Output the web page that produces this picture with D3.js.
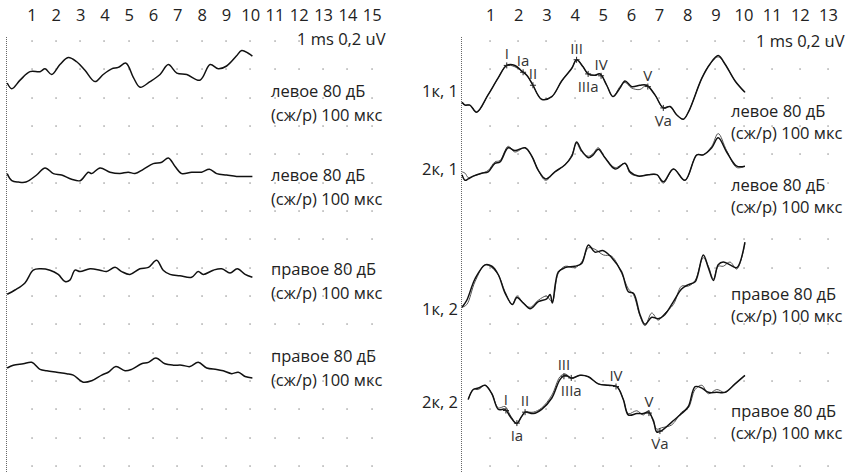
<!DOCTYPE html>
<html>
<head>
<meta charset="utf-8">
<script src="https://cdn.jsdelivr.net/npm/d3@7"></script>
<style>
body{margin:0;background:#fff;}
text{font-family:"Open Sans",sans-serif;}
</style>
</head>
<body>
<div id="chart"></div>
<script>
"use strict";

// tick labels (ms)
var leftTicks=[1,2,3,4,5,6,7,8,9,10,11,12,13,14,15];
var rightTicks=[1,2,3,4,5,6,7,8,9,10,11,12,13];

// left panel: [ms, uV]
var left1=[[0,0.00],[0.19,-0.04],[0.53,0.02],[0.94,0.08],[1.35,0.08],[1.56,0.10],[1.83,0.06],[2.17,0.13],[2.51,0.18],[2.86,0.15],[3.20,0.09],[3.61,0.01],[3.95,0.06],[4.30,0.10],[4.57,0.11],[4.89,0.14],[5.19,0.04],[5.47,-0.03],[5.88,0.01],[6.29,0.06],[6.63,0.13],[6.98,0.07],[7.39,0.06],[7.93,0.02],[8.35,0.13],[8.69,0.10],[9.03,0.12],[9.43,0.19],[9.65,0.23],[9.92,0.21],[10.09,0.19]];
var left2=[[0,0.01],[0.19,-0.04],[0.46,-0.05],[0.77,-0.05],[1.21,0.00],[1.56,0.05],[1.90,0.01],[2.24,0.00],[2.65,-0.03],[3.00,-0.04],[3.34,0.02],[3.48,0.01],[3.82,0.05],[4.23,0.02],[4.64,0.01],[4.98,0.02],[5.26,0.01],[5.60,0.04],[6.01,0.08],[6.36,0.09],[6.63,0.12],[6.91,0.06],[7.18,0.01],[7.59,0.02],[8.00,0.02],[8.32,0.04],[8.62,0.01],[9.03,0.00],[9.44,-0.01],[9.79,-0.01],[10.09,-0.01]];
var left3=[[0,-0.03],[0.32,0.00],[0.73,0.05],[1.07,0.14],[1.35,0.15],[1.76,0.14],[2.10,0.11],[2.38,0.06],[2.58,0.07],[2.79,0.14],[3.00,0.13],[3.41,0.15],[3.82,0.14],[4.09,0.13],[4.44,0.16],[4.71,0.13],[5.05,0.11],[5.46,0.15],[5.81,0.16],[6.15,0.21],[6.42,0.14],[6.70,0.11],[7.11,0.10],[7.59,0.09],[7.86,0.13],[8.07,0.11],[8.48,0.14],[8.83,0.15],[9.17,0.12],[9.47,0.15],[9.79,0.11],[10.09,0.09]];
var left4=[[0,0.00],[0.25,0.02],[0.66,0.03],[1.01,0.04],[1.35,-0.01],[1.63,-0.02],[2.04,-0.03],[2.45,-0.04],[2.72,-0.05],[3.13,-0.10],[3.48,-0.09],[3.89,-0.05],[4.16,-0.03],[4.47,0.01],[4.85,-0.02],[5.12,-0.01],[5.53,0.03],[5.81,0.04],[6.12,0.07],[6.49,0.03],[6.84,0.02],[7.18,0.02],[7.52,0.01],[7.86,0.04],[8.21,0.00],[8.62,-0.01],[8.89,-0.02],[9.24,-0.04],[9.51,-0.03],[9.79,-0.06],[10.09,-0.07]];

// right panel: two replicates each
var right1a=[[0,-0.03],[0.11,-0.05],[0.28,-0.05],[0.52,-0.10],[0.92,0.02],[1.28,0.14],[1.59,0.23],[1.88,0.23],[2.12,0.19],[2.30,0.16],[2.52,0.09],[2.70,0.02],[2.84,-0.01],[3.19,0.01],[3.54,0.12],[3.90,0.21],[4.07,0.27],[4.30,0.22],[4.48,0.17],[4.72,0.16],[4.90,0.17],[5.14,0.09],[5.36,0.01],[5.61,0.07],[5.79,0.12],[6.03,0.08],[6.32,0.09],[6.56,0.09],[6.86,0.02],[7.15,-0.07],[7.39,-0.06],[7.63,-0.12],[7.86,-0.15],[8.04,-0.10],[8.52,0.14],[8.81,0.24],[9.10,0.30],[9.34,0.24],[9.70,0.12],[10.05,0.04]];
var right1b=[[0,-0.03],[0.11,-0.05],[0.28,-0.05],[0.52,-0.10],[0.92,0.02],[1.28,0.14],[1.59,0.23],[1.88,0.22],[2.12,0.19],[2.30,0.16],[2.52,0.09],[2.70,0.02],[2.84,-0.01],[3.19,0.01],[3.54,0.12],[3.90,0.21],[4.07,0.27],[4.30,0.22],[4.48,0.17],[4.72,0.16],[4.90,0.17],[5.14,0.09],[5.36,0.01],[5.61,0.08],[5.79,0.11],[6.03,0.07],[6.32,0.06],[6.56,0.09],[6.86,0.02],[7.15,-0.07],[7.39,-0.06],[7.63,-0.12],[7.86,-0.15],[8.04,-0.10],[8.52,0.14],[8.81,0.24],[9.10,0.29],[9.34,0.24],[9.70,0.12],[10.05,0.04]];
var right2a=[[0,-0.04],[0.11,-0.08],[0.22,-0.07],[0.40,-0.05],[0.70,-0.03],[0.93,-0.02],[1.17,0.04],[1.35,0.05],[1.64,0.15],[1.88,0.13],[2.24,0.15],[2.48,0.09],[2.71,-0.01],[2.97,-0.07],[3.30,-0.02],[3.66,0.03],[3.90,0.09],[4.07,0.19],[4.25,0.13],[4.49,0.08],[4.66,0.10],[4.84,0.14],[5.08,0.08],[5.44,0.00],[5.79,0.04],[5.97,-0.02],[6.26,-0.05],[6.62,-0.04],[6.92,-0.04],[7.15,-0.09],[7.51,0.00],[7.92,-0.08],[8.34,0.10],[8.57,0.10],[8.87,0.15],[9.10,0.22],[9.40,0.12],[9.76,0.02],[10.05,0.02]];
var right2b=[[0,-0.02],[0.11,-0.03],[0.22,-0.06],[0.40,-0.05],[0.70,-0.03],[0.93,-0.01],[1.17,0.05],[1.35,0.06],[1.64,0.16],[1.88,0.12],[2.24,0.15],[2.48,0.09],[2.71,-0.01],[2.97,-0.08],[3.30,-0.02],[3.66,0.03],[3.90,0.10],[4.07,0.18],[4.25,0.12],[4.49,0.09],[4.66,0.11],[4.84,0.15],[5.08,0.08],[5.44,0.01],[5.79,0.04],[5.97,-0.03],[6.26,-0.05],[6.62,-0.04],[6.92,-0.04],[7.15,-0.10],[7.51,0.00],[7.92,-0.08],[8.34,0.10],[8.57,0.10],[8.87,0.16],[9.10,0.25],[9.40,0.13],[9.76,0.01],[10.05,0.02]];
var right3a=[[0,-0.08],[0.17,-0.03],[0.46,0.12],[0.82,0.22],[1.06,0.21],[1.29,0.15],[1.53,0.02],[1.79,-0.06],[1.95,-0.01],[2.18,-0.05],[2.42,-0.09],[2.71,-0.04],[3.01,-0.02],[3.13,0.01],[3.21,-0.05],[3.42,0.17],[3.66,0.20],[4.01,0.21],[4.25,0.23],[4.49,0.36],[4.72,0.31],[5.02,0.32],[5.32,0.27],[5.67,0.17],[5.91,0.03],[6.09,0.02],[6.32,-0.13],[6.50,-0.20],[6.74,-0.15],[6.97,-0.16],[7.21,-0.13],[7.51,-0.04],[7.80,0.05],[8.04,0.08],[8.28,0.10],[8.57,0.29],[8.75,0.20],[8.93,0.11],[9.10,0.22],[9.28,0.24],[9.52,0.22],[9.76,0.20],[10.05,0.38]];
var right3b=[[0,-0.08],[0.17,-0.06],[0.46,0.10],[0.82,0.22],[1.06,0.20],[1.29,0.15],[1.53,0.03],[1.79,-0.06],[1.95,0.00],[2.18,-0.05],[2.42,-0.08],[2.71,-0.03],[3.01,0.00],[3.13,-0.03],[3.21,-0.04],[3.42,0.16],[3.66,0.21],[4.01,0.20],[4.25,0.24],[4.49,0.34],[4.72,0.33],[5.02,0.29],[5.32,0.28],[5.67,0.16],[5.91,0.05],[6.09,0.01],[6.32,-0.14],[6.50,-0.21],[6.74,-0.12],[6.97,-0.17],[7.21,-0.12],[7.51,-0.06],[7.80,0.07],[8.04,0.07],[8.28,0.11],[8.57,0.27],[8.75,0.21],[8.93,0.12],[9.10,0.21],[9.28,0.21],[9.52,0.24],[9.76,0.19],[10.05,0.37]];
var right4a=[[0.22,-0.13],[0.40,-0.06],[0.58,-0.05],[0.82,-0.03],[1.06,-0.09],[1.29,-0.20],[1.53,-0.20],[1.71,-0.25],[1.94,-0.30],[2.12,-0.25],[2.24,-0.22],[2.53,-0.23],[2.83,-0.20],[3.19,-0.12],[3.48,0.01],[3.66,0.04],[3.90,0.02],[4.19,0.04],[4.49,0.03],[4.84,-0.02],[5.20,-0.03],[5.50,-0.04],[5.73,-0.13],[5.91,-0.24],[6.21,-0.23],[6.44,-0.23],[6.62,-0.22],[6.80,-0.28],[6.92,-0.36],[7.09,-0.35],[7.45,-0.29],[7.80,-0.23],[8.04,-0.18],[8.28,-0.04],[8.52,-0.05],[8.75,-0.08],[9.05,-0.08],[9.34,-0.08],[9.70,-0.02],[10.05,0.04]];
var right4b=[[0.22,-0.13],[0.40,-0.06],[0.58,-0.06],[0.82,-0.03],[1.06,-0.09],[1.29,-0.19],[1.53,-0.18],[1.71,-0.24],[1.94,-0.30],[2.12,-0.25],[2.24,-0.22],[2.53,-0.22],[2.83,-0.19],[3.19,-0.10],[3.48,0.03],[3.66,0.05],[3.90,0.02],[4.19,0.04],[4.49,0.03],[4.84,-0.02],[5.20,-0.03],[5.50,-0.04],[5.73,-0.13],[5.91,-0.23],[6.21,-0.21],[6.44,-0.24],[6.62,-0.21],[6.80,-0.29],[6.92,-0.34],[7.09,-0.33],[7.45,-0.31],[7.80,-0.22],[8.04,-0.19],[8.28,-0.06],[8.52,-0.03],[8.75,-0.09],[9.05,-0.06],[9.34,-0.08],[9.70,-0.02],[10.05,0.04]];

// peak labels
var peakNames=["I","Ia","II","III","IIIa","IV","V","Va"];
var peakLat1=[1.59,2.17,2.52,4.07,4.48,4.94,6.60,7.15];
var peakSide1=["up","up","up","up","down","up","up","down"];
var peakLat4=[1.56,1.95,2.24,3.62,3.88,5.47,6.64,7.03];
var peakSide4=["up","down","up","up","down","up","up","down"];

var leftCaptions=["левое 80 дБ","левое 80 дБ","правое 80 дБ","правое 80 дБ"];
var rightCaptions=["левое 80 дБ","левое 80 дБ","правое 80 дБ","правое 80 дБ"];
var rightNames=["1к, 1","2к, 1","1к, 2","2к, 2"];
var stimText="(сж/р) 100 мкс";
var scaleText="1 ms 0,2 uV";

var w=851, h=472;
var svg=d3.select("#chart").append("svg")
    .attr("width",w)
    .attr("height",h);

svg.append("rect").attr("width",w).attr("height",h).attr("fill","#fff");

var xLeft=d3.scaleLinear().domain([0,15]).range([7.2,371.7]);
var xRight=d3.scaleLinear().domain([0,13]).range([462,828]);
var rowY=d3.scaleLinear().domain([0,15]).range([41,466]);
var uvPx=28.33/0.2;

function yFor(base){
    return d3.scaleLinear().domain([0,1]).range([base,base-uvPx]);
}

// grid dots
function drawDots(x,ticks){
    var g=svg.append("g");
    d3.range(16).forEach(function(r){
        g.selectAll(null)
            .data(ticks)
            .enter()
            .append("rect")
            .attr("x",function(d){return Math.round(x(d))-0.6;})
            .attr("y",Math.round(rowY(r))-0.6)
            .attr("width",1.3)
            .attr("height",1.3)
            .attr("fill","#8a8a8a");
    });
}
drawDots(xLeft,leftTicks);
drawDots(xRight,rightTicks);

// zero lines
[xLeft,xRight].forEach(function(x){
    svg.append("line")
        .attr("x1",Math.round(x(0))-0.5)
        .attr("x2",Math.round(x(0))-0.5)
        .attr("y1",37)
        .attr("y2",h)
        .attr("stroke","#666")
        .attr("stroke-width",1)
        .attr("stroke-dasharray","1,1");
});

// top axes
function drawAxis(x,ticks){
    var g=svg.append("g")
        .attr("transform","translate(0,21)")
        .call(d3.axisTop(x).tickValues(ticks).tickSize(0).tickPadding(0));
    g.select(".domain").remove();
    g.selectAll("text")
        .attr("font-size",16.5)
        .attr("font-family","'Open Sans',sans-serif")
        .attr("fill","#222");
}
drawAxis(xLeft,leftTicks);
drawAxis(xRight,rightTicks);

function addText(x,y,t,anchor,size){
    svg.append("text")
        .attr("x",x)
        .attr("y",y)
        .attr("text-anchor",anchor||"start")
        .attr("font-size",size||16.5)
        .attr("fill","#222")
        .text(t);
}

var line=function(x,y){
    return d3.line()
        .x(function(d){return x(d[0]);})
        .y(function(d){return y(d[1]);})
        .curve(d3.curveCatmullRom.alpha(0.5));
};

// left traces
var leftBases=[83,175,290,368];
[left1,left2,left3,left4].forEach(function(data,i){
    var y=yFor(leftBases[i]);
    svg.append("path")
        .attr("d",line(xLeft,y)(data))
        .attr("fill","none")
        .attr("stroke","#111")
        .attr("stroke-width",1.5);
});

// right traces
var rightBases=[98,169,296,381];
var rightData=[[right1a,right1b],[right2a,right2b],[right3a,right3b],[right4a,right4b]];
rightData.forEach(function(pair,i){
    var y=yFor(rightBases[i]);
    svg.append("path")
        .attr("d",line(xRight,y)(pair[1]))
        .attr("fill","none")
        .attr("stroke","#555")
        .attr("stroke-width",1);
    svg.append("path")
        .attr("d",line(xRight,y)(pair[0]))
        .attr("fill","none")
        .attr("stroke","#111")
        .attr("stroke-width",1.5);
});

function interp(data,t){
    for(var k=1;k<data.length;k++){
        if(data[k][0]>=t){
            var a=data[k-1], b=data[k];
            return a[1]+(b[1]-a[1])*(t-a[0])/(b[0]-a[0]);
        }
    }
    return data[data.length-1][1];
}

function drawPeaks(data,lats,sides,base){
    var y=yFor(base);
    lats.forEach(function(t,i){
        var px=xRight(t), py=y(interp(data,t));
        svg.append("path")
            .attr("d","M"+(px-3)+","+py+"H"+(px+3)+"M"+px+","+(py-3)+"V"+(py+3))
            .attr("stroke","#222")
            .attr("stroke-width",1);
        svg.append("text")
            .attr("x",px)
            .attr("y",sides[i]=="up"?py-6:py+18)
            .attr("text-anchor","middle")
            .attr("font-size",15)
            .attr("fill","#333")
            .text(peakNames[i]);
    });
}
drawPeaks(right1a,peakLat1,peakSide1,rightBases[0]);
drawPeaks(right4a,peakLat4,peakSide4,rightBases[3]);

// captions
addText(297,45,scaleText);
addText(756,47,scaleText);

var leftCapY=[97,181,275,362];
leftCaptions.forEach(function(c,i){
    addText(271,leftCapY[i],c);
    addText(271,leftCapY[i]+24,stimText);
});

var rightCapY=[117,191,300,417];
rightCaptions.forEach(function(c,i){
    addText(731,rightCapY[i],c);
    addText(731,rightCapY[i]+22,stimText);
});

var nameY=[97,175,315,408];
rightNames.forEach(function(n,i){
    addText(458,nameY[i],n,"end");
});
</script>
</body>
</html>
